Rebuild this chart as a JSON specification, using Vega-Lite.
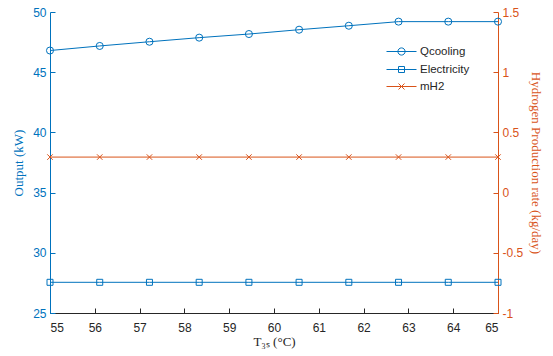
{
  "$schema": "https://vega.github.io/schema/vega-lite/v6.json",
  "width": 448,
  "height": 301,
  "autosize": {"type": "none"},
  "padding": {"left": 50, "top": 12, "right": 55, "bottom": 43},
  "background": "white",
  "config": {
    "view": {"stroke": null},
    "axis": {
      "grid": false,
      "labelFont": "Liberation Sans",
      "labelFontSize": 12,
      "titleFont": "Liberation Serif",
      "titleFontSize": 13,
      "titleFontWeight": "normal",
      "tickSize": -5,
      "domainWidth": 1,
      "tickWidth": 1
    }
  },
  "data": {
    "values": [
      {"T": 55, "series": "Qcooling", "value": 46.8},
      {"T": 56.11, "series": "Qcooling", "value": 47.18},
      {"T": 57.22, "series": "Qcooling", "value": 47.53},
      {"T": 58.33, "series": "Qcooling", "value": 47.87},
      {"T": 59.44, "series": "Qcooling", "value": 48.17},
      {"T": 60.56, "series": "Qcooling", "value": 48.53},
      {"T": 61.67, "series": "Qcooling", "value": 48.86},
      {"T": 62.78, "series": "Qcooling", "value": 49.2},
      {"T": 63.89, "series": "Qcooling", "value": 49.2},
      {"T": 65, "series": "Qcooling", "value": 49.2},
      {"T": 55, "series": "Electricity", "value": 27.55},
      {"T": 56.11, "series": "Electricity", "value": 27.55},
      {"T": 57.22, "series": "Electricity", "value": 27.55},
      {"T": 58.33, "series": "Electricity", "value": 27.55},
      {"T": 59.44, "series": "Electricity", "value": 27.55},
      {"T": 60.56, "series": "Electricity", "value": 27.55},
      {"T": 61.67, "series": "Electricity", "value": 27.55},
      {"T": 62.78, "series": "Electricity", "value": 27.55},
      {"T": 63.89, "series": "Electricity", "value": 27.55},
      {"T": 65, "series": "Electricity", "value": 27.55},
      {"T": 55, "series": "mH2", "value": 0.295},
      {"T": 56.11, "series": "mH2", "value": 0.295},
      {"T": 57.22, "series": "mH2", "value": 0.295},
      {"T": 58.33, "series": "mH2", "value": 0.295},
      {"T": 59.44, "series": "mH2", "value": 0.295},
      {"T": 60.56, "series": "mH2", "value": 0.295},
      {"T": 61.67, "series": "mH2", "value": 0.295},
      {"T": 62.78, "series": "mH2", "value": 0.295},
      {"T": 63.89, "series": "mH2", "value": 0.295},
      {"T": 65, "series": "mH2", "value": 0.295}
    ]
  },
  "encoding": {
    "x": {
      "field": "T",
      "type": "quantitative",
      "scale": {"domain": [55, 65], "nice": false, "zero": false},
      "axis": {
        "title": "T₃ₛ (°C)",
        "values": [55, 56, 57, 58, 59, 60, 61, 62, 63, 64, 65],
        "domainColor": "#262626",
        "tickColor": "#262626",
        "labelColor": "#262626",
        "titleColor": "#262626",
        "labelPadding": 14,
        "titlePadding": 2
      }
    }
  },
  "layer": [
    {
      "transform": [{"filter": "datum.series !== 'mH2'"}],
      "encoding": {
        "y": {
          "field": "value",
          "type": "quantitative",
          "scale": {"domain": [25, 50], "nice": false, "zero": false},
          "axis": {
            "title": "Output (kW)",
            "orient": "left",
            "values": [25, 30, 35, 40, 45, 50],
            "domainColor": "#0072BD",
            "tickColor": "#0072BD",
            "labelColor": "#0072BD",
            "titleColor": "#0072BD",
            "labelPadding": 9,
            "titlePadding": 7
          }
        },
        "detail": {"field": "series"}
      },
      "layer": [
        {"mark": {"type": "line", "color": "#0072BD", "strokeWidth": 1}},
        {
          "transform": [{"filter": "datum.series === 'Qcooling'"}],
          "mark": {"type": "point", "shape": "circle", "filled": false, "color": "#0072BD", "size": 50, "strokeWidth": 1, "opacity": 1}
        },
        {
          "transform": [{"filter": "datum.series === 'Electricity'"}],
          "mark": {"type": "point", "shape": "square", "filled": false, "color": "#0072BD", "size": 36, "strokeWidth": 1, "opacity": 1}
        }
      ]
    },
    {
      "transform": [{"filter": "datum.series === 'mH2'"}],
      "encoding": {
        "y": {
          "field": "value",
          "type": "quantitative",
          "scale": {"domain": [-1, 1.5], "nice": false, "zero": false},
          "axis": {
            "title": "Hydrogen Production rate (kg/day)",
            "orient": "right",
            "values": [-1, -0.5, 0, 0.5, 1, 1.5],
            "labelExpr": "datum.value + ''",
            "domainColor": "#D95319",
            "tickColor": "#D95319",
            "labelColor": "#D95319",
            "titleColor": "#D95319",
            "labelPadding": 9,
            "titlePadding": 6
          }
        }
      },
      "layer": [
        {"mark": {"type": "line", "color": "#D95319", "strokeWidth": 1}},
        {
          "mark": {"type": "point", "shape": "M-1,-1L1,1M-1,1L1,-1", "filled": false, "color": "#D95319", "size": 30, "strokeWidth": 1, "opacity": 1}
        }
      ]
    },
    {
      "mark": {"type": "point", "filled": false, "opacity": 0},
      "encoding": {
        "color": {
          "field": "series",
          "type": "nominal",
          "scale": {"domain": ["Qcooling", "Electricity", "mH2"], "range": ["#0072BD", "#0072BD", "#D95319"]},
          "legend": {
            "title": null,
            "orient": "none",
            "legendX": 345,
            "legendY": 33,
            "padding": 0,
            "symbolSize": 144,
            "symbolOpacity": 1,
            "symbolStrokeWidth": 1,
            "labelOffset": 12,
            "rowPadding": 5,
            "labelFont": "Liberation Sans",
            "labelFontSize": 11.5,
            "labelColor": "#262626"
          }
        },
        "shape": {
          "field": "series",
          "type": "nominal",
          "scale": {
            "domain": ["Qcooling", "Electricity", "mH2"],
            "range": [
              "M-2.5,0H2.5M0.6,0A0.6,0.6,0,1,1,-0.6,0A0.6,0.6,0,1,1,0.6,0",
              "M-2.5,0H2.5M-0.5,-0.5H0.5V0.5H-0.5Z",
              "M-2.5,0H2.5M-0.5,-0.5L0.5,0.5M-0.5,0.5L0.5,-0.5"
            ]
          },
          "legend": {
            "title": null,
            "orient": "none",
            "legendX": 345,
            "legendY": 33,
            "padding": 0,
            "symbolSize": 144,
            "symbolOpacity": 1,
            "symbolStrokeWidth": 1,
            "labelOffset": 12,
            "rowPadding": 5,
            "labelFont": "Liberation Sans",
            "labelFontSize": 11.5,
            "labelColor": "#262626"
          }
        }
      }
    }
  ],
  "resolve": {"scale": {"y": "independent"}}
}
